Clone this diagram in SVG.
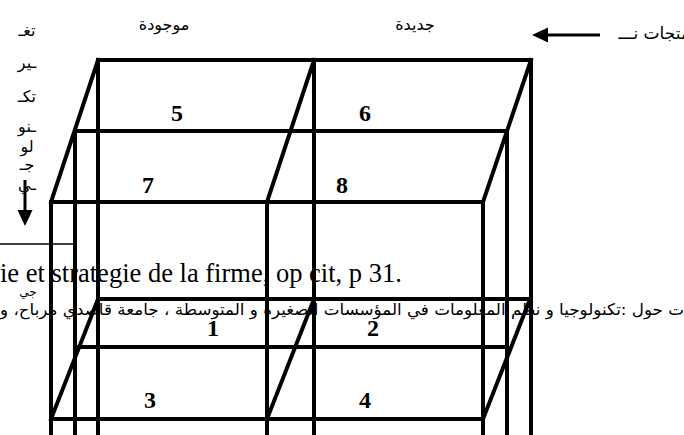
<svg xmlns="http://www.w3.org/2000/svg" width="684" height="435" viewBox="0 0 684 435">
<style>
.k{stroke:#000;stroke-width:4;fill:none;stroke-linecap:square}
.thin{stroke:#000;stroke-width:1.5;fill:none}
.ar{font-family:"DejaVu Sans",sans-serif;fill:#000}
.num{font-family:"Liberation Serif",serif;font-weight:bold;font-size:24px;fill:#000;text-anchor:middle}
.fr{font-family:"Liberation Serif",serif;font-size:26.5px;fill:#000}
</style>
<rect width="684" height="435" fill="#fff"/>
<g id="connectors">
<line class="k" x1="98" y1="60" x2="531" y2="60"/>
<line class="k" x1="75" y1="131" x2="507" y2="131"/>
<line class="k" x1="51" y1="202" x2="483" y2="202"/>
<line class="k" x1="98" y1="60" x2="51" y2="202"/>
<line class="k" x1="314" y1="60" x2="267" y2="202"/>
<line class="k" x1="531" y1="60" x2="483" y2="202"/>
<line class="k" x1="98" y1="60" x2="98" y2="437"/>
<line class="k" x1="314" y1="60" x2="314" y2="437"/>
<line class="k" x1="531" y1="60" x2="531" y2="437"/>
<line class="k" x1="75" y1="131" x2="75" y2="437"/>
<line class="k" x1="507" y1="131" x2="507" y2="437"/>
<line class="k" x1="51" y1="202" x2="51" y2="437"/>
<line class="k" x1="267" y1="202" x2="267" y2="437"/>
<line class="k" x1="483" y1="202" x2="483" y2="437"/>
<line class="k" x1="98" y1="299" x2="530" y2="299"/>
<line class="k" x1="77" y1="347" x2="507" y2="347"/>
<line class="k" x1="51" y1="419" x2="483" y2="419"/>
<line class="k" x1="98" y1="299" x2="51" y2="419"/>
<line class="k" x1="314" y1="299" x2="267" y2="419"/>
<line class="k" x1="530" y1="299" x2="483" y2="419"/>
<line class="thin" x1="0" y1="244" x2="74" y2="244"/>
<line x1="25" y1="180" x2="25" y2="212" stroke="#000" stroke-width="3"/>
<path d="M17.5,210 L32.5,210 L25,226 z" fill="#000"/>
<line x1="600" y1="35" x2="546" y2="35" stroke="#000" stroke-width="3"/>
<path d="M548,27.5 L548,42.5 L532,35 z" fill="#000"/>
</g>
<g id="cells">
<text class="num" x="177" y="121">5</text>
<text class="num" x="365" y="121">6</text>
<text class="num" x="148" y="193">7</text>
<text class="num" x="342" y="193">8</text>
<text class="num" x="213" y="336">1</text>
<text class="num" x="373" y="336">2</text>
<text class="num" x="150" y="408">3</text>
<text class="num" x="365" y="408">4</text>
</g>
<g id="labels">
<text class="ar" x="164" y="30" font-size="16" text-anchor="middle" letter-spacing="2">موجودة</text>
<text class="ar" x="415" y="30" font-size="16" text-anchor="middle">جديدة</text>
<text class="ar" x="690" y="39" font-size="17" text-anchor="end">متجات نـــ</text>
<g class="ar" font-size="16" text-anchor="middle">
<text x="27" y="36">تغـ</text>
<text x="27" y="68">ـير</text>
<text x="27" y="102">تكـ</text>
<text x="27" y="132">ـنو</text>
<text x="27" y="152">لو</text>
<text x="27" y="170">جـ</text>
<text x="27" y="190">ـي</text>
</g>
<text class="ar" x="28" y="296" font-size="12" text-anchor="middle">جي</text>
</g>
<g id="footnote">
<text class="fr" x="0" y="282">ie et strategie de la firme, op cit, p 31.</text>
<text class="ar" x="0" y="315" font-size="16" textLength="684" lengthAdjust="spacingAndGlyphs">ت حول :تكنولوجيا و نظم المعلومات في المؤسسات الصغيرة و المتوسطة ، جامعة قاصدي مرباح، و</text>
</g>
</svg>
